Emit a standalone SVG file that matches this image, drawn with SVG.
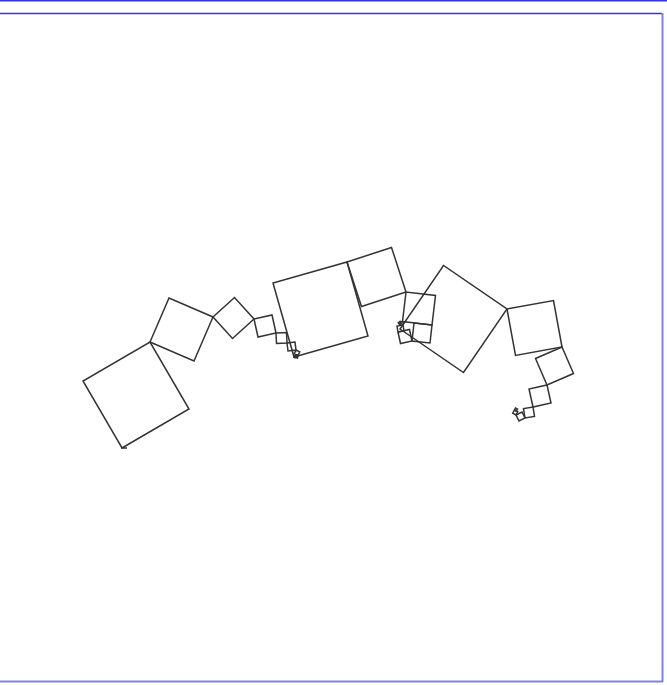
<svg xmlns="http://www.w3.org/2000/svg" width="667" height="685" viewBox="0 0 667 685">
<style>
.frame{stroke:#3535dd;stroke-width:1.5;fill:none}
.frame2{stroke:#8080ee;stroke-width:2;fill:none}
.sq{fill:none;stroke:#333333;stroke-width:1.5;stroke-linejoin:miter}
</style>
<rect width="667" height="685" fill="#ffffff"/>
<g id="frame">
<line class="frame" x1="0" y1="0.8" x2="667" y2="0.8"/>
<line class="frame" x1="0" y1="13.5" x2="662" y2="13.5"/>
<line class="frame2" x1="662.5" y1="13" x2="662.5" y2="682"/>
<line class="frame2" x1="0" y1="681.5" x2="663" y2="681.5"/>
</g>
<g id="chainA">
<line class="sq" x1="121" y1="448" x2="127" y2="448"/>
<polygon class="sq" points="122,448 189,409 150,342 83,381"/>
<polygon class="sq" points="150,342 194,361 213,317 169,298"/>
<polygon class="sq" points="213,317 232.5,338.5 254,319 234.5,297.5"/>
<polygon class="sq" points="254,319 258,337 276,333 272,315"/>
<polygon class="sq" points="276,333 276.5,343.5 287,343 286.5,332.5"/>
<polygon class="sq" points="287,343 288,351 296,350 295,342"/>
<polygon class="sq" points="296,350 294.25,353.75 298,355.5 299.75,351.75"/>
<polygon class="sq" points="298,355.5 295.5,355 295,357.5 297.5,358"/>
<polygon class="sq" points="295,357.5 295.25,356.25 294,356 293.75,357.25"/>
</g>
<g id="chainB">
<polygon class="sq" points="294,357 368,336 347,262 273,283"/>
<polygon class="sq" points="347,262 361.5,306.5 406,292 391.5,247.5"/>
<polygon class="sq" points="406,292 402.5,321.5 432,325 435.5,295.5"/>
<polygon class="sq" points="432,325 414,323 412,341 430,343"/>
<polygon class="sq" points="412,341 409.5,329.5 398,332 400.5,343.5"/>
<polygon class="sq" points="398,332 404,331 403,325 397,326"/>
<polygon class="sq" points="403,325 403.25,321.75 400,321.5 399.75,324.75"/>
<polygon class="sq" points="400,321.5 398.25,322.75 399.5,324.5 401.25,323.25"/>
</g>
<g id="chainC">
<polygon class="sq" points="400,329 463.5,372.5 507,309 443.5,265.5"/>
<polygon class="sq" points="507,309 515.5,355.5 562,347 553.5,300.5"/>
<polygon class="sq" points="562,347 573.5,373.5 547,385 535.5,358.5"/>
<polygon class="sq" points="547,385 551,403 533,407 529,389"/>
<polygon class="sq" points="533,407 534.5,416.5 525,418 523.5,408.5"/>
<polygon class="sq" points="525,418 522,412 516,415 519,421"/>
<polygon class="sq" points="516,415 517.75,411.75 514.5,410 512.75,413.25"/>
<polygon class="sq" points="514.5,410 516.5,411 517.5,409 515.5,408"/>
</g>
</svg>
